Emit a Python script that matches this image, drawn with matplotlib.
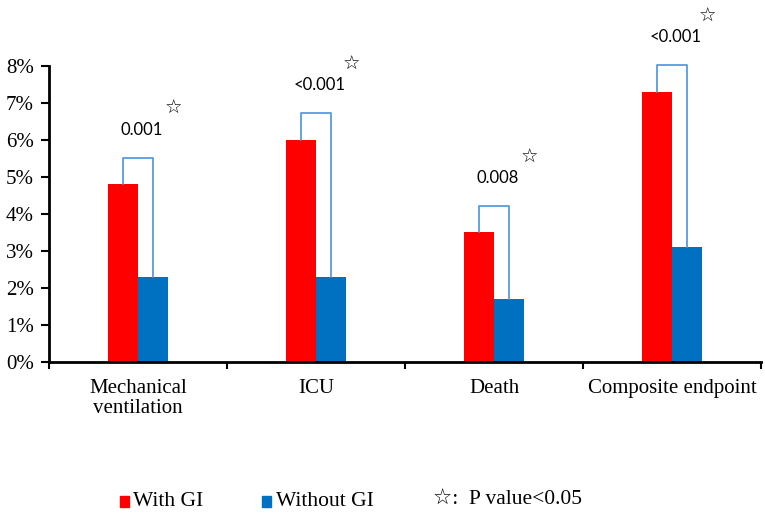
import matplotlib
matplotlib.use("Agg")
import matplotlib.pyplot as plt
from matplotlib.patches import Rectangle
import numpy as np

categories = ["Mechanical\nventilation", "ICU", "Death", "Composite endpoint"]
with_gi = [4.8, 6.0, 3.5, 7.3]
without_gi = [2.3, 2.3, 1.7, 3.1]
p_labels = ["0.001", "<0.001", "0.008", "<0.001"]
y_ticks = [0, 1, 2, 3, 4, 5, 6, 7, 8]
y_tick_labels = [f"{v}%" for v in y_ticks]
legend_labels = ["With GI", "Without GI"]
note_text = "☆:  P value<0.05"

RED = "#FF0000"
BLUE = "#0070C0"
BRACKET = "#4A94DA"
SERIF = ["Liberation Serif", "DejaVu Serif"]
SANS = ["Lato", "DejaVu Sans"]

fig = plt.figure(figsize=(7.65, 5.26), dpi=100)
ax = fig.add_axes([0.064, 0.312, 0.931, 0.5625])

x = np.arange(len(categories))
w = 0.168
ax.bar(x - w / 2, with_gi, width=w, color=RED, zorder=2)
ax.bar(x + w / 2, without_gi, width=w, color=BLUE, zorder=2)

for i in range(len(categories)):
    top = max(with_gi[i], without_gi[i]) + 0.72
    ax.plot([x[i] - w / 2, x[i] - w / 2, x[i] + w / 2, x[i] + w / 2],
            [with_gi[i], top, top, without_gi[i]],
            color=BRACKET, lw=1.2, clip_on=False, zorder=3)
    ax.text(x[i] + 0.02, top + 0.76, p_labels[i], ha="center", va="center",
            fontsize=12, family=SANS, clip_on=False)
    ax.text(x[i] + 0.2, top + 1.32, "☆", ha="center", va="center",
            fontsize=14, family=["DejaVu Sans"], clip_on=False)

ax.set_xlim(-0.5, len(categories) - 0.5)
ax.set_ylim(0, 8)
ax.set_yticks(y_ticks)
ax.set_yticklabels(y_tick_labels, family=SERIF, fontsize=15)
ax.set_xticks(x)
ax.set_xticklabels(categories, family=SERIF, fontsize=15, linespacing=1.1)
ax.set_xticks(np.arange(len(categories) + 1) - 0.5, minor=True)
ax.tick_params(axis="x", which="major", length=0, pad=12)
ax.tick_params(axis="x", which="minor", length=5, width=1.5, direction="out")
ax.tick_params(axis="y", which="major", length=6, width=1.5, direction="out", pad=5)

for s in ["top", "right"]:
    ax.spines[s].set_visible(False)
for s in ["left", "bottom"]:
    ax.spines[s].set_linewidth(2)
    ax.spines[s].set_color("black")

# legend (manual, matching reference layout)
fig.patches.append(Rectangle((120 / 765, 1 - 507 / 526), 9 / 765, 11 / 526,
                             transform=fig.transFigure, color=RED))
fig.text(133 / 765, 1 - 502 / 526, legend_labels[0], family=SERIF, fontsize=15.5,
         va="center", ha="left")
fig.patches.append(Rectangle((262 / 765, 1 - 507 / 526), 9 / 765, 11 / 526,
                             transform=fig.transFigure, color=BLUE))
fig.text(276 / 765, 1 - 502 / 526, legend_labels[1], family=SERIF, fontsize=15.5,
         va="center", ha="left")
fig.text(433 / 765, 1 - 500 / 526, note_text, family=["Liberation Serif", "DejaVu Sans"],
         fontsize=15.5, va="center", ha="left")

fig.savefig("out.png", dpi=100)
